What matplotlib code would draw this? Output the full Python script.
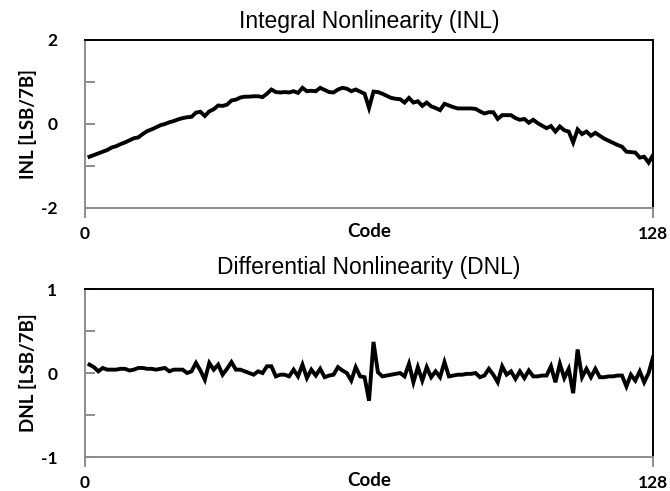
import numpy as np
import matplotlib.pyplot as plt

# ADC static linearity, codes 1..128 (7-bit)
codes = np.arange(1, 129)

inl = [
    -0.78, -0.74, -0.70, -0.66, -0.62, -0.56, -0.53, -0.48, -0.44, -0.39,
    -0.34, -0.32, -0.24, -0.17, -0.13, -0.08, -0.03, 0.00, 0.04, 0.07,
    0.11, 0.14, 0.16, 0.17, 0.27, 0.29, 0.19, 0.30, 0.35, 0.44,
    0.43, 0.46, 0.56, 0.58, 0.63, 0.65, 0.65, 0.66, 0.66, 0.64,
    0.72, 0.82, 0.76, 0.75, 0.76, 0.75, 0.78, 0.74, 0.86, 0.78,
    0.79, 0.78, 0.86, 0.81, 0.76, 0.75, 0.82, 0.86, 0.84, 0.78,
    0.82, 0.77, 0.72, 0.38, 0.77, 0.76, 0.72, 0.67, 0.62, 0.60,
    0.59, 0.51, 0.62, 0.51, 0.54, 0.43, 0.51, 0.42, 0.38, 0.33,
    0.48, 0.44, 0.40, 0.37, 0.37, 0.37, 0.37, 0.36, 0.30, 0.25,
    0.28, 0.28, 0.12, 0.21, 0.21, 0.21, 0.14, 0.10, 0.12, 0.03,
    0.10, 0.02, -0.04, -0.10, -0.05, -0.18, -0.06, -0.15, -0.18, -0.44,
    -0.13, -0.24, -0.18, -0.28, -0.21, -0.28, -0.35, -0.40, -0.45, -0.50,
    -0.54, -0.66, -0.67, -0.68, -0.80, -0.78, -0.92, -0.74,
]

dnl = [
    0.10, 0.07, 0.02, 0.06, 0.04, 0.04, 0.04, 0.05, 0.05, 0.03,
    0.04, 0.06, 0.06, 0.05, 0.05, 0.04, 0.05, 0.06, 0.02, 0.04,
    0.04, 0.04, 0.00, 0.02, 0.12, 0.03, -0.08, 0.12, 0.04, 0.10,
    -0.02, 0.05, 0.13, 0.04, 0.04, 0.02, 0.00, -0.02, 0.02, 0.00,
    0.08, 0.08, -0.04, -0.02, -0.02, -0.04, 0.04, -0.04, 0.10, -0.06,
    0.04, -0.03, 0.05, -0.05, -0.03, -0.02, 0.07, 0.03, 0.00, -0.09,
    0.07, -0.04, -0.05, -0.33, 0.37, 0.01, -0.04, -0.03, -0.02, -0.01,
    0.00, -0.04, 0.11, -0.11, 0.07, -0.09, 0.07, -0.05, 0.02, -0.05,
    0.13, -0.04, -0.03, -0.02, -0.02, -0.01, -0.01, 0.00, -0.05, -0.03,
    0.05, -0.02, -0.11, 0.08, -0.02, 0.02, -0.07, 0.02, -0.06, 0.03,
    -0.04, -0.04, -0.03, -0.03, 0.08, -0.11, 0.11, -0.06, 0.05, -0.24,
    0.28, -0.05, 0.05, -0.05, 0.05, -0.05, -0.05, -0.04, -0.04, -0.03,
    -0.03, -0.16, -0.02, -0.09, 0.02, -0.11, 0.00, 0.19,
]

panels = [
    ("Integral Nonlinearity (INL)", "INL [LSB/7B]", inl, 2, [-2, 0, 2], 8.5),
    ("Differential Nonlinearity (DNL)", "DNL [LSB/7B]", dnl, 1, [-1, 0, 1], 10.5),
]

fig = plt.figure(figsize=(6.7, 4.91), dpi=100)
boxes = [[0.1269, 0.5764, 0.8478, 0.3422], [0.1269, 0.0692, 0.8478, 0.3422]]
ticks_font = dict(family="Lato", weight="bold", size=12.5)
label_font = dict(family="Lato", weight="bold", size=13.5)

for box, (title, ylab, vals, lim, labels, tpad) in zip(boxes, panels):
    ax = fig.add_axes(box)
    ax.plot(codes, vals, color="black", lw=2.8, solid_joinstyle="miter")
    ax.set_xlim(0, 128)
    ax.set_ylim(-lim, lim)

    for side in ["top", "right"]:
        ax.spines[side].set_color("black")
        ax.spines[side].set_linewidth(1.4)
    for side in ["left", "bottom"]:
        ax.spines[side].set_color("#8c8c8c")
        ax.spines[side].set_linewidth(1.4)

    ax.set_xticks([0, 128])
    ax.set_xticklabels(["0", "128"], fontdict=ticks_font)
    ax.tick_params(axis="x", direction="out", length=7, width=1.4,
                   color="#8c8c8c", pad=6)

    yt = np.linspace(-lim, lim, 5)
    ax.set_yticks(yt)
    ax.set_yticklabels([str(int(t)) if t in labels else "" for t in yt],
                       fontdict=ticks_font)
    ax.tick_params(axis="y", direction="in", length=7, width=1.4,
                   color="#8c8c8c", pad=20)

    ax.set_title(title, family="Liberation Sans", size=16.5, pad=tpad)
    ax.set_ylabel(ylab, **label_font)
    ax.yaxis.set_label_coords(-0.085, 0.5)
    ax.text(0.5, -0.09, "Code", transform=ax.transAxes, ha="center",
            va="top", **label_font)

fig.savefig("out.png", dpi=100)
